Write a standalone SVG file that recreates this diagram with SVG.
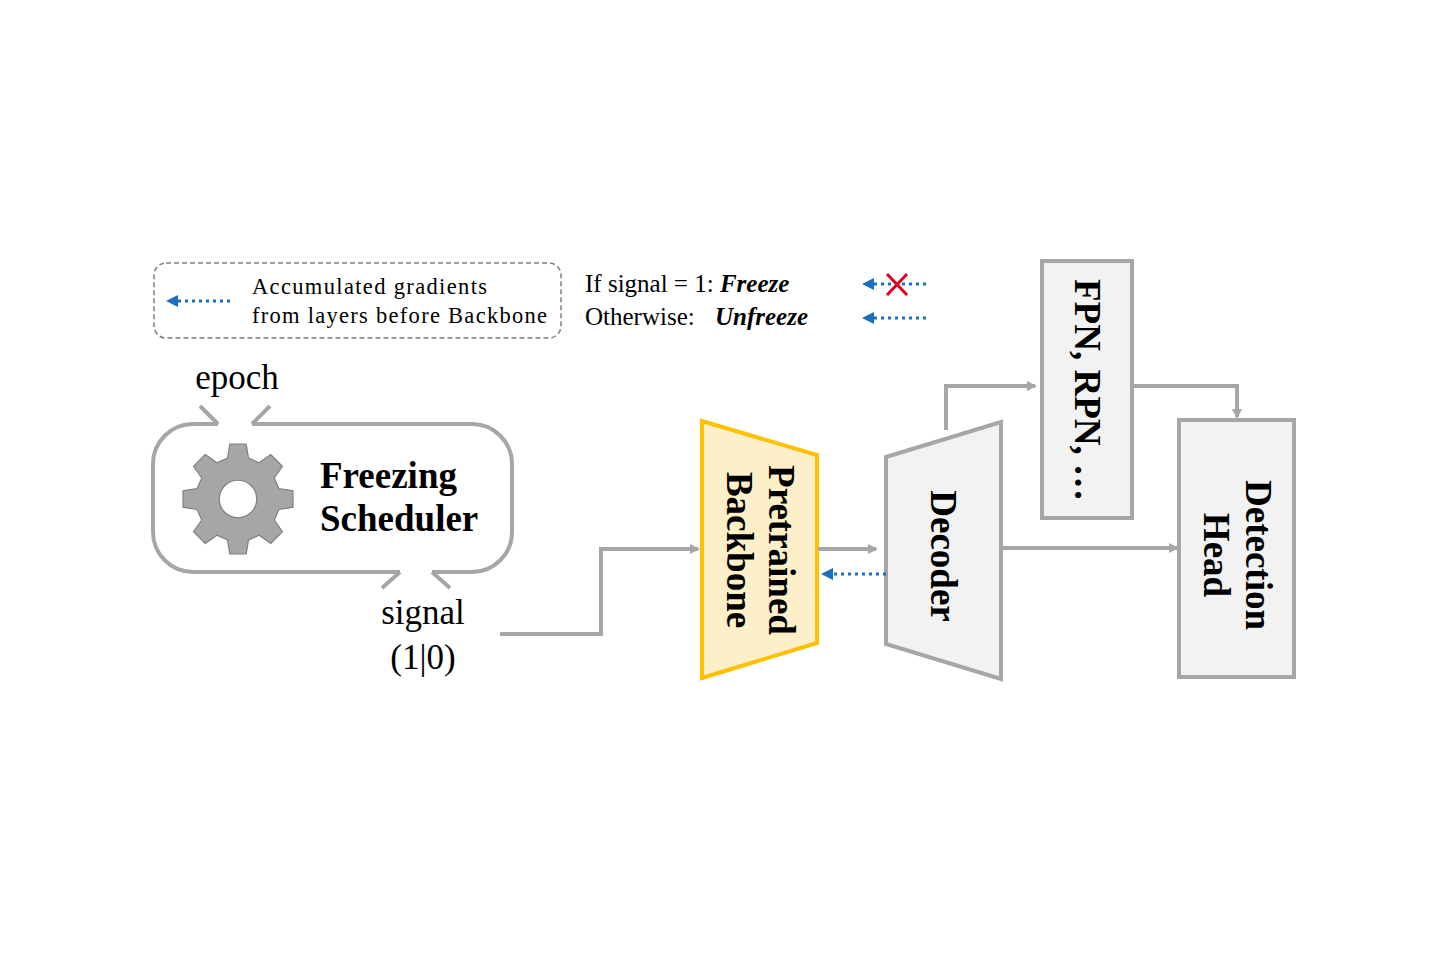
<svg xmlns="http://www.w3.org/2000/svg" width="1441" height="964" viewBox="0 0 1441 964">
<style>
.g{fill:none;stroke:#a6a6a6;stroke-width:4}
.t{font-family:"Liberation Serif","DejaVu Serif",serif;fill:#000}
.b{font-weight:bold}
.blue{stroke:#1a6fc0;stroke-width:3;stroke-dasharray:3 4;fill:none}
</style>
<defs>
<marker id="ag" markerWidth="10" markerHeight="10" refX="8" refY="5" orient="auto" markerUnits="userSpaceOnUse"><path d="M0,0L10,5L0,10z" fill="#a6a6a6"/></marker>
<marker id="ab" markerWidth="12" markerHeight="12" refX="10" refY="6" orient="auto" markerUnits="userSpaceOnUse"><path d="M0,0L12,6L0,12z" fill="#1a6fc0"/></marker>
</defs>
<rect width="1441" height="964" fill="#fff"/>
<g id="legend">
<rect x="154" y="263" width="407" height="75" rx="12" fill="none" stroke="#7f7f7f" stroke-width="1.5" stroke-dasharray="5 3"/>
<line class="blue" x1="230" y1="301" x2="168" y2="301" marker-end="url(#ab)"/>
<text class="t" x="252" y="294" font-size="22.5" textLength="235">Accumulated gradients</text>
<text class="t" x="252" y="323" font-size="22.5" textLength="295">from layers before Backbone</text>
<text class="t" x="585" y="292" font-size="25">If signal = 1: <tspan class="b" font-style="italic">Freeze</tspan></text>
<text class="t" x="585" y="325" font-size="25">Otherwise:  <tspan class="b" font-style="italic" dx="14">Unfreeze</tspan></text>
<line class="blue" x1="926" y1="284" x2="864" y2="284" marker-end="url(#ab)"/>
<path d="M887,274L907,295M907,274L887,295" stroke="#e0001a" stroke-width="3"/>
<line class="blue" x1="926" y1="318" x2="864" y2="318" marker-end="url(#ab)"/>
</g>
<g id="scheduler">
<path class="g" d="M218,424H193A40,40 0 0 0 153,464V532A40,40 0 0 0 193,572H400M432,572H472A40,40 0 0 0 512,532V464A40,40 0 0 0 472,424H252M218,424L200,406M252,424L270,406M400,572L382,588M432,572L450,588"/>
<path fill="#a6a6a6" stroke="#7f7f7f" stroke-width="1" fill-rule="evenodd" transform="translate(238,499) scale(1.17) translate(-238,-496)" d="M231,449L245,449L247,461L256,465L266,458L276,468L269,478L273,487L285,489L285,503L273,505L269,514L276,524L266,534L256,527L247,531L245,543L231,543L229,531L220,527L210,534L200,524L207,514L203,505L191,503L191,489L203,487L207,478L200,468L210,458L220,465L229,461Z M254,496A16,16 0 1 0 222,496A16,16 0 1 0 254,496Z"/>
<text class="t b" x="320" y="488" font-size="37">Freezing</text>
<text class="t b" x="320" y="531" font-size="37">Scheduler</text>
<text class="t" x="237" y="389" font-size="35" text-anchor="middle">epoch</text>
<text class="t" x="423" y="624" font-size="35" text-anchor="middle">signal</text>
<text class="t" x="423" y="669" font-size="35" text-anchor="middle">(1|0)</text>
</g>
<g id="backbone">
<polygon points="702,421 817,455 817,643 702,678" fill="#fdf0c8" stroke="#ffc000" stroke-width="4"/>
<g transform="translate(759,550) rotate(90)">
<text class="t b" x="0" y="-10" font-size="37" text-anchor="middle">Pretrained</text>
<text class="t b" x="0" y="32" font-size="37" text-anchor="middle">Backbone</text>
</g>
</g>
<g id="decoder">
<polygon points="886,457 1001,422 1001,679 886,644" fill="#f2f2f2" stroke="#a6a6a6" stroke-width="4"/>
<text class="t b" transform="translate(943,556) rotate(90)" font-size="37" text-anchor="middle" y="12">Decoder</text>
</g>
<g id="fpn">
<rect x="1042" y="261" width="90" height="257" fill="#f2f2f2" stroke="#a6a6a6" stroke-width="4"/>
<text class="t b" transform="translate(1087,390) rotate(90)" font-size="37" text-anchor="middle" y="12">FPN, RPN, …</text>
</g>
<g id="head">
<rect x="1179" y="420" width="115" height="257" fill="#f2f2f2" stroke="#a6a6a6" stroke-width="4"/>
<g transform="translate(1236,555) rotate(90)">
<text class="t b" x="0" y="-10" font-size="37" text-anchor="middle">Detection</text>
<text class="t b" x="0" y="32" font-size="37" text-anchor="middle">Head</text>
</g>
</g>
<g id="connectors">
<path class="g" d="M500,634H601V549H698" marker-end="url(#ag)"/>
<path class="g" d="M818,549H876" marker-end="url(#ag)"/>
<line class="blue" x1="886" y1="574" x2="823" y2="574" marker-end="url(#ab)"/>
<path class="g" d="M946,430V386H1035" marker-end="url(#ag)"/>
<path class="g" d="M1133,386H1237V417" marker-end="url(#ag)"/>
<path class="g" d="M1001,548H1177" marker-end="url(#ag)"/>
</g>
</svg>
